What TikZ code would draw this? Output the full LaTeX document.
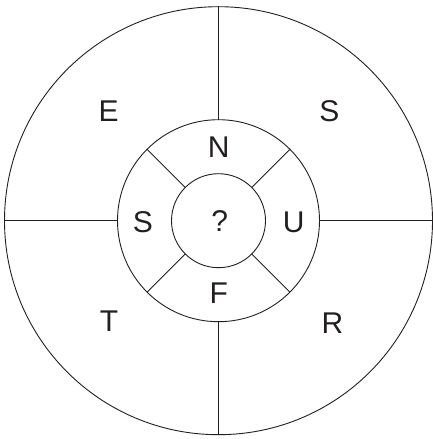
\documentclass[tikz,border=0pt]{standalone}
\usepackage{fontspec}
\setmainfont{Liberation Sans}
\definecolor{ink}{HTML}{231F20}
\begin{document}
\begin{tikzpicture}[x=1pt,y=1pt,
  ring/.style={circle,draw=ink,line width=0.9pt,inner sep=0pt,outer sep=0pt,minimum size=#1},
  seg/.style={draw=ink,line width=0.9pt},
  lab/.style={text=ink,inner sep=0pt,font=\fontsize{30}{36}\selectfont}]
\useasboundingbox (0,0) rectangle (432,439);
\coordinate (c) at (218.5,218.3);
\node[ring=428pt] (outer) at (c) {};
\node[ring=202pt] (mid) at (c) {};
\node[ring=94pt] (inner) at (c) {};
\draw[seg] (outer.north) -- (mid.north);
\draw[seg] (outer.south) -- (mid.south);
\draw[seg] (outer.west) -- (mid.west);
\draw[seg] (outer.east) -- (mid.east);
\draw[seg] (mid.45) -- (inner.45);
\draw[seg] (mid.135) -- (inner.135);
\draw[seg] (mid.225) -- (inner.225);
\draw[seg] (mid.315) -- (inner.315);
\node[lab] (e) at (108.7,328.2) {E};
\node[lab] (s1) at (329.5,327.7) {S};
\node[lab] (n) at (218.7,291.5) {N};
\node[lab] (s2) at (143,216.5) {S};
\node[lab] (q) at (219.7,218) {?};
\node[lab] (u) at (293.7,217) {U};
\node[lab] (f) at (218.7,146.2) {F};
\node[lab] (t) at (109,117.7) {T};
\node[lab] (r) at (332.5,116) {R};
\end{tikzpicture}
\end{document}
